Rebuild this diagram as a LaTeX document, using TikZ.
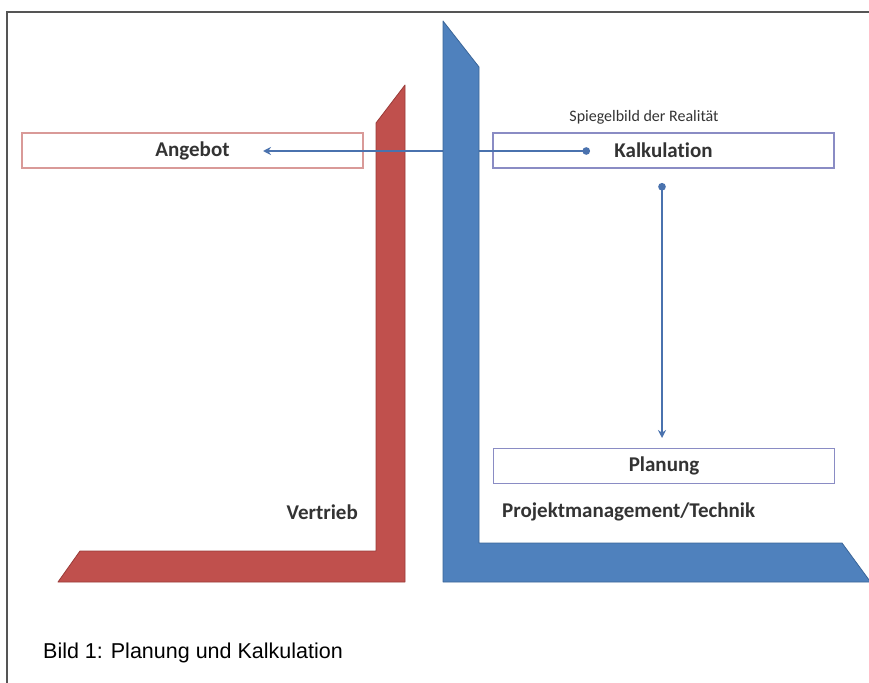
\documentclass[tikz,border=0pt]{standalone}
\usepackage{fontspec}
\setmainfont{Carlito}[Ligatures={NoCommon}]
\newfontfamily\capfont{Liberation Sans}
\usetikzlibrary{arrows.meta}
\definecolor{redfill}{HTML}{C0504D}
\definecolor{redline}{HTML}{9A3B38}
\definecolor{bluefill}{HTML}{4F81BD}
\definecolor{blueline}{HTML}{3A6598}
\definecolor{boxred}{HTML}{D99A98}
\definecolor{boxblue}{HTML}{8A8CC4}
\definecolor{conn}{HTML}{4A72AE}
\definecolor{txt}{HTML}{333333}
\definecolor{frame}{HTML}{555555}
\tikzset{
  box/.style={draw, line width=1.5pt, fill=white, minimum width=341pt, minimum height=35pt, inner sep=0pt,
    font=\fontsize{21}{24}\selectfont\bfseries, text=txt},
  lbl/.style={inner sep=0pt, font=\fontsize{21}{24}\selectfont\bfseries, text=txt},
  smalllbl/.style={inner sep=0pt, font=\fontsize{16}{19}\selectfont, text=txt},
  conline/.style={draw=conn, line width=2.2pt},
  redshape/.style={fill=redfill, draw=redline, line width=0.8pt, line join=round},
  blueshape/.style={fill=bluefill, draw=blueline, line width=0.8pt, line join=round},
}
\begin{document}
\begin{tikzpicture}[x=1pt, y=-1pt]
\useasboundingbox (0,0) rectangle (869,682);
\begin{scope}
\clip (0,0) rectangle (869,682);
% frame
\draw[frame, line width=1.5pt] (870,12) -- (7,12) -- (7,683);

% boxes
\node[box, draw=boxred] (ang) at (192.5,150.5) {Angebot};
\node[box, draw=boxblue] (kalk) at (663.5,150.5) {Kalkulation};
\node[box, draw=boxblue] (plan) at (664,466) {Planung};
\node[smalllbl] (spiegel) at (644,117) {Spiegelbild der Realität};

% red L shape
\path[redshape] (58,582) -- (80,551) -- (376,551) -- (376,123) -- (405,85) -- (405,582) -- cycle;

% horizontal connector (over red, under blue)
\coordinate (kdot) at (590,151);
\coordinate (atip) at (263,151);
\draw[conline, {Circle[length=7.5pt]}-{Stealth[length=8pt,width=8pt]}] (kdot) -- (atip);

% blue L shape
\path[blueshape] (443,21) -- (479,67) -- (479,543) -- (842,543) -- (872,584) -- (872,582) -- (443,582) -- cycle;

% vertical connector
\coordinate (vdot) at (662,183);
\coordinate (vtip) at (662,438);
\draw[conline, {Circle[length=7.5pt]}-{Stealth[length=8pt,width=8pt]}] (vdot) -- (vtip);

% labels
\node[lbl, anchor=east] (vertrieb) at (358,512) {Vertrieb};
\node[lbl, anchor=west] (pm) at (502,512) {Projektmanagement/Technik};
\node[inner sep=0pt, anchor=west, font=\capfont\fontsize{21.5}{24}\selectfont, text=black] (cap) at (43,653) {Bild 1: Planung und Kalkulation};
\end{scope}
\end{tikzpicture}
\end{document}
